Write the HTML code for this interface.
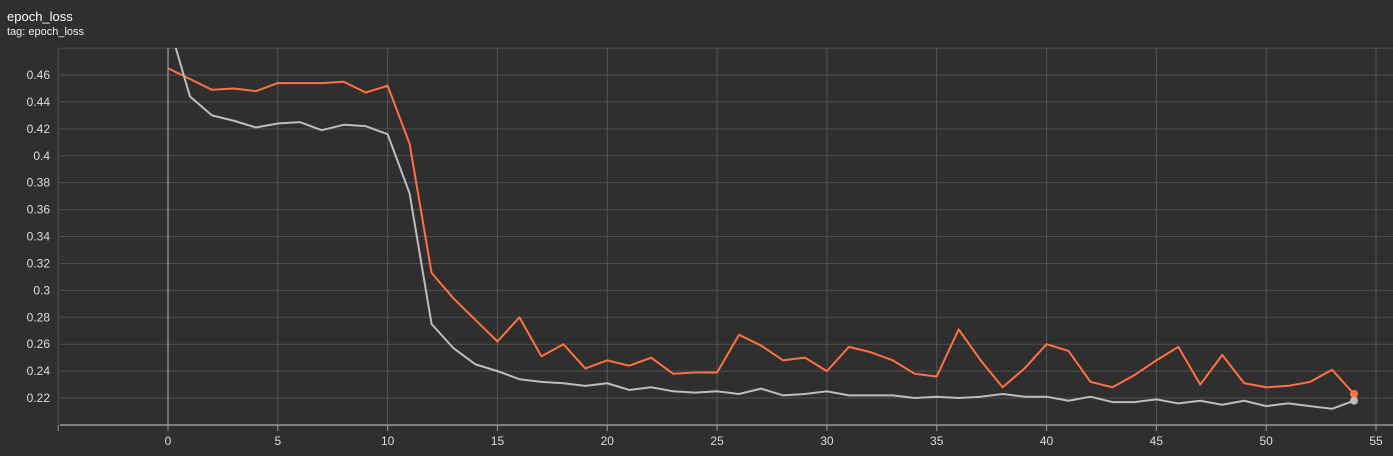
<!DOCTYPE html>
<html><head><meta charset="utf-8"><style>
body{margin:0;background:#2f2f2f;width:1393px;height:456px;overflow:hidden;font-family:"Liberation Sans",sans-serif}
#t{position:absolute;left:7px;top:9px;color:#fff;font-size:13px}
#s{position:absolute;left:7px;top:26px;color:#eee;font-size:11px}
svg{position:absolute;left:0;top:0}
</style></head><body>
<div id="t">epoch_loss</div>
<div id="s">tag: epoch_loss</div>
<svg id="c" width="1393" height="456"></svg>
<script>
const steps=[...Array(55).keys()];
const valLoss=[0.465,0.457,0.449,0.450,0.448,0.454,0.454,0.454,0.455,0.447,0.452,0.409,0.313,0.294,0.278,0.262,0.280,0.251,0.260,0.242,0.248,0.244,0.250,0.238,0.239,0.239,0.267,0.259,0.248,0.250,0.240,0.258,0.254,0.248,0.238,0.236,0.271,0.248,0.228,0.242,0.260,0.255,0.232,0.228,0.237,0.248,0.258,0.230,0.252,0.231,0.228,0.229,0.232,0.241,0.223];
const trainLoss=[0.500,0.444,0.430,0.426,0.421,0.424,0.425,0.419,0.423,0.422,0.416,0.372,0.275,0.257,0.245,0.240,0.234,0.232,0.231,0.229,0.231,0.226,0.228,0.225,0.224,0.225,0.223,0.227,0.222,0.223,0.225,0.222,0.222,0.222,0.220,0.221,0.220,0.221,0.223,0.221,0.221,0.218,0.221,0.217,0.217,0.219,0.216,0.218,0.215,0.218,0.214,0.216,0.214,0.212,0.218];
const xTicks=[0,5,10,15,20,25,30,35,40,45,50,55];
const yTicks=[0.22,0.24,0.26,0.28,0.3,0.32,0.34,0.36,0.38,0.4,0.42,0.44,0.46];
const X=v=>168+v*(1376-168)/55;
const Y=v=>75+(0.46-v)/0.02*26.92;
const svg=document.getElementById('c');const NS='http://www.w3.org/2000/svg';
function mk(tag,a,p){const e=document.createElementNS(NS,tag);for(const k in a)e.setAttribute(k,a[k]);(p||svg).appendChild(e);return e;}
const defs=mk('defs',{});const cp=mk('clipPath',{id:'cp'},defs);mk('rect',{x:60,y:48,width:1333,height:378},cp);
for(let v=0.20;v<=0.481;v+=0.02){const l=mk('line',{x1:60,x2:1393,y1:Y(v),y2:Y(v),stroke:'#4f4f4f','stroke-width':1});

}
for(let v=-5;v<=55;v+=5){const l=mk('line',{x1:X(v),x2:X(v),y1:48,y2:425,stroke:v===0?'#8a8a8a':'#555','stroke-width':v===0?1.5:1});


mk('line',{x1:X(v),x2:X(v),y1:425,y2:431,stroke:'#999'});}
const ax=mk('line',{x1:60,x2:1393,y1:425,y2:425,stroke:'#999','stroke-width':1.5});


yTicks.forEach(v=>{const t=mk('text',{x:50,y:Y(v)+4,'text-anchor':'end',fill:'#ddd','font-size':12});t.textContent=String(v);

});
xTicks.forEach(v=>{const t=mk('text',{x:X(v),y:445,'text-anchor':'middle',fill:'#ddd','font-size':12});t.textContent=v;

});
function series(d,col,name){const p=mk('polyline',{points:d.map((v,i)=>X(steps[i])+','+Y(v)).join(' '),fill:'none',stroke:col,'stroke-width':2,'clip-path':'url(#cp)','stroke-linejoin':'round'});


const n=d.length-1;const c=mk('circle',{cx:X(steps[n]),cy:Y(d[n]),r:4,fill:col});

}
series(valLoss,'#ff7043','validation-line');
series(trainLoss,'#bdbdbd','train-line');
</script>
</body></html>
